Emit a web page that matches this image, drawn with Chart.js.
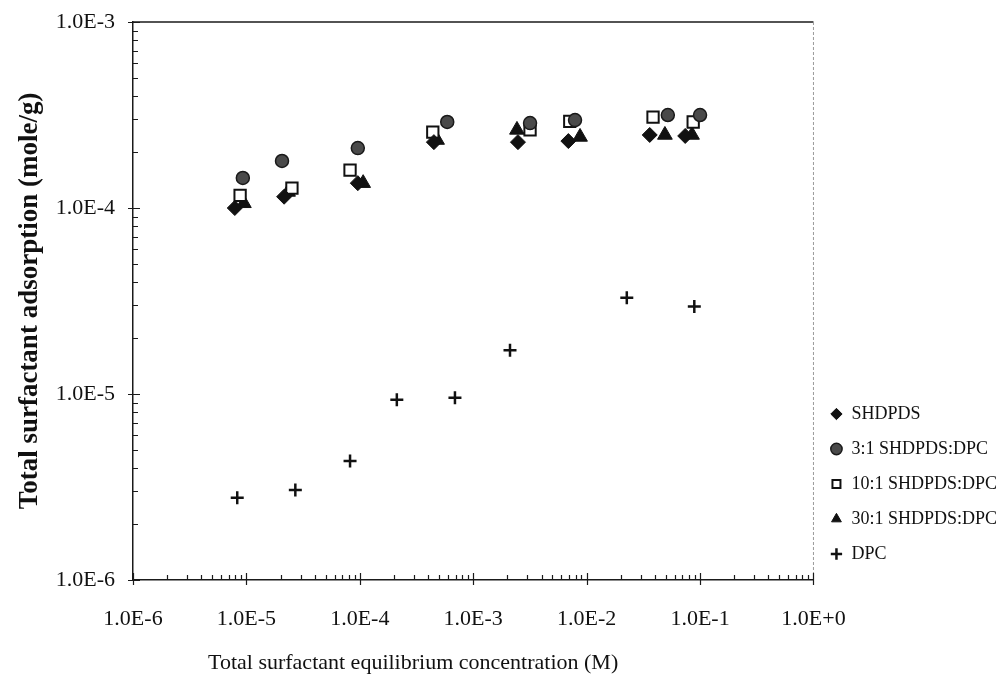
<!DOCTYPE html>
<html lang="en">
<head>
    <meta charset="UTF-8">
    <title>Total surfactant adsorption</title>
    <script src="https://cdn.jsdelivr.net/npm/chart.js"></script>
    <style>
        html, body {
            margin: 0;
            padding: 0;
            background: #fff;
        }
        #chartContainer {
            width: 1007px;
            height: 679px;
        }
    </style>
</head>
<body>
    <div id="chartContainer">
        <canvas id="adsChart"></canvas>
    </div>

    <script>
        // axis decades and their printed labels
        const xDecades = [1e-6, 1e-5, 1e-4, 1e-3, 1e-2, 1e-1, 1];
        const xTickLabels = ['1.0E-6', '1.0E-5', '1.0E-4', '1.0E-3', '1.0E-2', '1.0E-1', '1.0E+0'];
        const yDecades = [1e-6, 1e-5, 1e-4, 1e-3];
        const yTickLabels = ['1.0E-6', '1.0E-5', '1.0E-4', '1.0E-3'];

        // series values (x = concentration M, y = mole/g)
        const shdpdsX = [7.9e-6, 2.15e-5, 9.6e-5, 4.5e-4, 2.48e-3, 6.9e-3, 3.6e-2, 7.4e-2];
        const shdpdsY = [1.0e-4, 1.15e-4, 1.36e-4, 2.26e-4, 2.26e-4, 2.29e-4, 2.47e-4, 2.44e-4];

        const mix3X = [9.3e-6, 2.06e-5, 9.6e-5, 5.9e-4, 3.17e-3, 7.9e-3, 5.2e-2, 1.0e-1];
        const mix3Y = [1.45e-4, 1.79e-4, 2.1e-4, 2.9e-4, 2.86e-4, 2.97e-4, 3.16e-4, 3.16e-4];

        const mix10X = [8.8e-6, 2.52e-5, 8.2e-5, 4.4e-4, 3.17e-3, 7.1e-3, 3.85e-2, 8.7e-2];
        const mix10Y = [1.17e-4, 1.28e-4, 1.6e-4, 2.56e-4, 2.63e-4, 2.92e-4, 3.08e-4, 2.9e-4];

        const mix30X = [9.5e-6, 2.33e-5, 1.07e-4, 4.8e-4, 2.43e-3, 8.75e-3, 4.9e-2, 8.5e-2];
        const mix30Y = [1.06e-4, 1.22e-4, 1.36e-4, 2.32e-4, 2.63e-4, 2.41e-4, 2.47e-4, 2.47e-4];

        const dpcX = [8.3e-6, 2.7e-5, 8.2e-5, 2.12e-4, 6.9e-4, 2.11e-3, 2.26e-2, 8.9e-2];
        const dpcY = [2.77e-6, 3.05e-6, 4.36e-6, 9.3e-6, 9.55e-6, 1.72e-5, 3.29e-5, 2.95e-5];

        const serif = "'Liberation Serif', 'DejaVu Serif', serif";

        function toPoints(xs, ys) {
            return xs.map((x, i) => ({ x: x, y: ys[i] }));
        }

        // 1..9 per decade, like the printed log axis
        function logTicks(decades) {
            const ticks = [];
            for (let i = 0; i < decades.length - 1; i++) {
                for (let m = 1; m <= 9; m++) {
                    ticks.push({ value: m * decades[i] });
                }
            }
            ticks.push({ value: decades[decades.length - 1] });
            return ticks;
        }

        function decadeIndex(decades, v) {
            return decades.findIndex(d => Math.abs(d - v) / d < 1e-9);
        }

        // frame (top + right) and inward tick marks
        const frameTicks = {
            id: 'frameTicks',
            afterDraw(chart) {
                const { ctx, chartArea: a, scales } = chart;
                const x = scales.x, y = scales.y;
                ctx.save();
                ctx.strokeStyle = '#1a1a1a';
                ctx.lineWidth = 1.5;
                ctx.beginPath();
                ctx.moveTo(a.left, a.top);
                ctx.lineTo(a.right, a.top);
                ctx.stroke();

                ctx.strokeStyle = '#9a9a9a';
                ctx.lineWidth = 1;
                ctx.setLineDash([3, 2]);
                ctx.beginPath();
                ctx.moveTo(a.right, a.top);
                ctx.lineTo(a.right, a.bottom);
                ctx.stroke();
                ctx.setLineDash([]);

                ctx.strokeStyle = '#1a1a1a';
                ctx.lineWidth = 1.2;
                ctx.beginPath();
                x.ticks.forEach(t => {
                    const px = Math.round(x.getPixelForValue(t.value)) + 0.5;
                    const major = decadeIndex(xDecades, t.value) >= 0;
                    ctx.moveTo(px, a.bottom + (major ? 5 : 0));
                    ctx.lineTo(px, a.bottom - (major ? 7 : 5));
                });
                y.ticks.forEach(t => {
                    const py = Math.round(y.getPixelForValue(t.value)) + 0.5;
                    const major = decadeIndex(yDecades, t.value) >= 0;
                    ctx.moveTo(a.left - (major ? 5 : 0), py);
                    ctx.lineTo(a.left + (major ? 7 : 5), py);
                });
                ctx.stroke();

                // x axis title, sits left of centre in the original
                ctx.fillStyle = '#111';
                ctx.font = '22px ' + serif;
                ctx.textAlign = 'left';
                ctx.textBaseline = 'middle';
                ctx.fillText('Total surfactant equilibrium concentration (M)', a.left + 75, a.bottom + 83);
                ctx.restore();
            }
        };

        const ctx = document.getElementById('adsChart').getContext('2d');

        const chart = new Chart(ctx, {
            type: 'scatter',
            data: {
                datasets: [
                    {
                        label: 'SHDPDS',
                        data: toPoints(shdpdsX, shdpdsY),
                        pointStyle: 'rectRot',
                        pointRadius: 7.5,
                        backgroundColor: '#111',
                        borderColor: '#111',
                        pointBorderWidth: 1
                    },
                    {
                        label: '3:1 SHDPDS:DPC',
                        data: toPoints(mix3X, mix3Y),
                        pointStyle: 'circle',
                        pointRadius: 6.5,
                        backgroundColor: '#4a4a4a',
                        borderColor: '#1a1a1a',
                        pointBorderWidth: 1.5
                    },
                    {
                        label: '10:1 SHDPDS:DPC',
                        data: toPoints(mix10X, mix10Y),
                        pointStyle: 'rect',
                        pointRadius: 8,
                        backgroundColor: '#fff',
                        borderColor: '#111',
                        pointBorderWidth: 2
                    },
                    {
                        label: '30:1 SHDPDS:DPC',
                        data: toPoints(mix30X, mix30Y),
                        pointStyle: 'triangle',
                        pointRadius: 8.5,
                        backgroundColor: '#111',
                        borderColor: '#111',
                        pointBorderWidth: 1
                    },
                    {
                        label: 'DPC',
                        data: toPoints(dpcX, dpcY),
                        pointStyle: 'cross',
                        pointRadius: 6.5,
                        backgroundColor: '#111',
                        borderColor: '#111',
                        pointBorderWidth: 2.5
                    }
                ]
            },
            options: {
                responsive: true,
                maintainAspectRatio: false,
                animation: false,
                layout: {
                    padding: { top: 22, right: 0, bottom: 0, left: 0 }
                },
                scales: {
                    x: {
                        type: 'logarithmic',
                        min: 1e-6,
                        max: 1,
                        afterBuildTicks: s => { s.ticks = logTicks(xDecades); },
                        afterFit: s => { s.height = 99; },
                        grid: { display: false, drawTicks: false },
                        border: { display: true, color: '#1a1a1a', width: 1.5 },
                        ticks: {
                            autoSkip: false,
                            maxRotation: 0,
                            padding: 26,
                            color: '#111',
                            font: { family: serif, size: 22 },
                            callback: v => {
                                const i = decadeIndex(xDecades, v);
                                return i >= 0 ? xTickLabels[i] : '';
                            }
                        }
                    },
                    y: {
                        type: 'logarithmic',
                        min: 1e-6,
                        max: 1e-3,
                        afterBuildTicks: s => { s.ticks = logTicks(yDecades); },
                        afterFit: s => { s.width = 133; s.paddingTop = 0; },
                        grid: { display: false, drawTicks: false },
                        border: { display: true, color: '#1a1a1a', width: 1.5 },
                        ticks: {
                            autoSkip: false,
                            padding: 18,
                            color: '#111',
                            font: { family: serif, size: 22 },
                            callback: v => {
                                const i = decadeIndex(yDecades, v);
                                return i >= 0 ? yTickLabels[i] : '';
                            }
                        },
                        title: {
                            display: true,
                            text: 'Total surfactant adsorption (mole/g)',
                            color: '#111',
                            font: { family: serif, size: 27, weight: 'bold' },
                            padding: { top: 14, bottom: 0 }
                        }
                    }
                },
                plugins: {
                    legend: {
                        position: 'right',
                        align: 'end',
                        fullSize: false,
                        labels: {
                            usePointStyle: true,
                            boxWidth: 12,
                            boxHeight: 8,
                            padding: 17,
                            color: '#111',
                            font: { family: serif, size: 18 }
                        }
                    },
                    tooltip: { enabled: false }
                }
            },
            plugins: [frameTicks]
        });
    </script>
</body>
</html>
